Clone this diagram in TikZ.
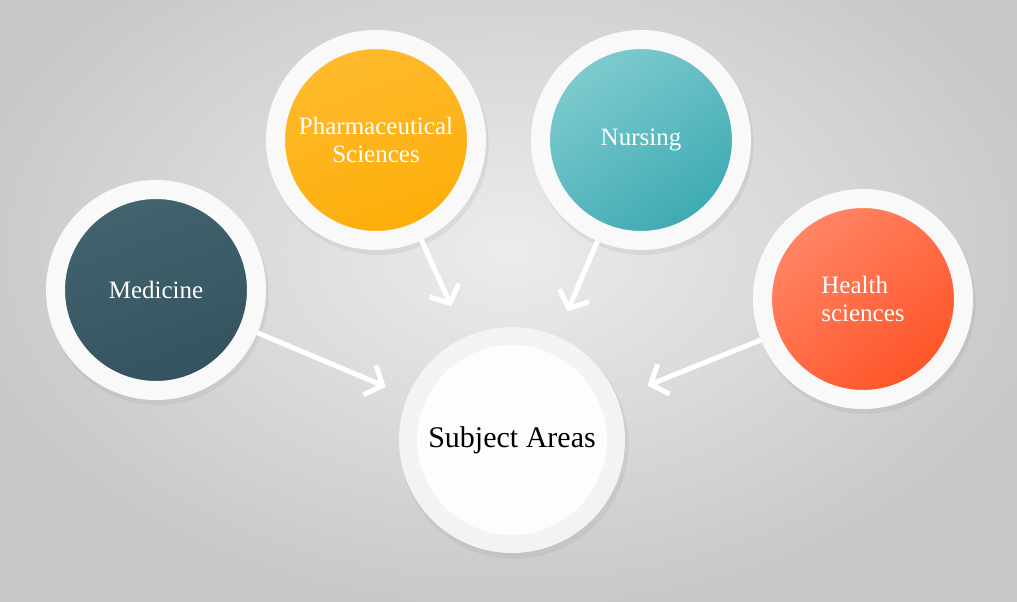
\documentclass[tikz,border=0pt]{standalone}
\usepackage{fontspec}
\setmainfont{Liberation Serif}
\usetikzlibrary{arrows.meta,shadows}

\definecolor{bgin}{HTML}{ECECEC}
\definecolor{bgout}{HTML}{C6C7C9}
\definecolor{ring}{HTML}{F9F9F9}
\definecolor{hub}{HTML}{FDFDFD}
\definecolor{hubring}{HTML}{F3F3F3}
\definecolor{medtop}{HTML}{42646F}
\definecolor{medbot}{HTML}{34525D}
\definecolor{phatop}{HTML}{FEBB2E}
\definecolor{phabot}{HTML}{FDAD08}
\definecolor{nurtop}{HTML}{80CCCF}
\definecolor{nurbot}{HTML}{3CA9B2}
\definecolor{heatop}{HTML}{FF8767}
\definecolor{heabot}{HTML}{FF5226}

\begin{document}
\begin{tikzpicture}[x=1pt,y=-1pt,
                    bubble/.style n args={3}{circle,draw=ring,
                    line width=19pt,
                    minimum size=201pt,
                    inner sep=0pt,
                    top color=#1,bottom color=#2,
                    shading angle=#3,
                    text=white,
                    font=\fontsize{25}{28}\selectfont,
                    drop shadow={shadow scale=1.1,shadow xshift=2pt,
                                 shadow yshift=-4pt,opacity=0.12}},
                    feed/.style={draw=white,line width=5pt,
                    -{Straight Barb[length=14pt,width=32pt]}}]
    \useasboundingbox (0,0) rectangle (1017,602);
    \shade[inner color=bgin,outer color=bgout] (-60,-120) rectangle (1077,622);

    \node[bubble={medtop}{medbot}{20}] (med) at (156,290) {Medicine};
    \node[bubble={phatop}{phabot}{20},align=center] (pharm) at (376,140)
        {Pharmaceutical\\Sciences};
    \node[bubble={nurtop}{nurbot}{35}] (nurs) at (641,140) {Nursing};
    \node[bubble={heatop}{heabot}{40},align=left] (hlth) at (863,299)
        {Health\\sciences};
    \node[circle,draw=hubring,fill=hub,line width=18pt,minimum size=208pt,
          font=\fontsize{30}{34}\selectfont,
          drop shadow={shadow scale=1.1,shadow xshift=2pt,shadow yshift=-4pt,opacity=0.12}]
          (subj) at (512,440) {Subject Areas};

    \draw[feed,shorten >=24pt] (med) -- (subj);
    \draw[feed,shorten >=34pt] (pharm) -- (subj);
    \draw[feed,shorten >=27pt] (nurs) -- (subj);
    \draw[feed,shorten >=33pt] (hlth) -- (subj);
\end{tikzpicture}
\end{document}
